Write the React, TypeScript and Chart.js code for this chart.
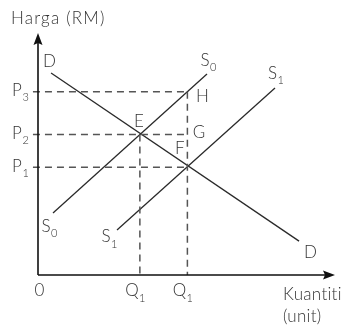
import React, { useEffect, useRef } from "react";
import { Chart, registerables } from "chart.js";

Chart.register(...registerables);

// Curves (quantity, price) in chart units (0..100 on both axes)
const demandCurve = [
  { x: 4.4, y: 83.5 },
  { x: 87.9, y: 14.0 },
];
const supplyS0 = [
  { x: 5.05, y: 25.6 },
  { x: 56.9, y: 83.1 },
];
const supplyS1 = [
  { x: 26.6, y: 18.6 },
  { x: 79.8, y: 77.3 },
];
// Price levels P1, P2, P3
const priceLevels = [44.5, 58.1, 75.7];
const priceNames = ["1", "2", "3"];
// Quantity levels (both labelled Q1 in the figure)
const quantityLevels = [34.3, 50.3];
const quantityNames = ["1", "1"];

const dashStart = -1.7;

export default function App() {
  const ref = useRef<HTMLCanvasElement | null>(null);
  useEffect(() => {
    const canvas = ref.current;
    if (!canvas) return;
    const [p1, p2, p3] = priceLevels;
    const [qE, qF] = quantityLevels;
    const solid = "#2a2a2a";
    const dashed = "#555555";
    const mk = (data: any[], color: string, dash: number[] = [], width = 1.3) => ({
      data,
      showLine: true,
      borderColor: color,
      borderWidth: width,
      borderDash: dash,
      pointRadius: 0,
      fill: false,
      clip: false,
    });
    const datasets = [
      mk([{ x: dashStart, y: p3 }, { x: qF, y: p3 }], dashed, [7, 5], 1.5),
      mk([{ x: dashStart, y: p2 }, { x: qF, y: p2 }], dashed, [7, 5], 1.5),
      mk([{ x: dashStart, y: p1 }, { x: qF, y: p1 }], dashed, [7, 5], 1.5),
      mk([{ x: qE, y: p2 }, { x: qE, y: 0 }], dashed, [7, 5], 1.5),
      mk([{ x: qF, y: p3 }, { x: qF, y: 0 }], dashed, [7, 5], 1.5),
      mk(demandCurve, solid),
      mk(supplyS0, solid),
      mk(supplyS1, solid),
    ];

    const labelFont = "300 17px Lato, 'Open Sans', sans-serif";
    const subFont = "300 11px Lato, 'Open Sans', sans-serif";
    const titleFont = "300 17px Lato, 'Open Sans', sans-serif";
    const textColor = "#333333";

    const overlay = {
      id: "overlay",
      afterDatasetsDraw(chart: any) {
        const ctx = chart.ctx as CanvasRenderingContext2D;
        const xs = chart.scales.x;
        const ys = chart.scales.y;
        const X = (v: number) => xs.getPixelForValue(v);
        const Y = (v: number) => ys.getPixelForValue(v);
        const ax = X(0);
        const ay = Y(0);
        const top = chart.chartArea.top;
        const right = chart.chartArea.right;
        ctx.save();
        // axes
        ctx.strokeStyle = "#111";
        ctx.fillStyle = "#111";
        ctx.lineWidth = 1.6;
        ctx.setLineDash([]);
        ctx.beginPath();
        ctx.moveTo(ax, ay);
        ctx.lineTo(ax, top + 8);
        ctx.moveTo(ax, ay);
        ctx.lineTo(right - 8, ay);
        ctx.stroke();
        // arrow heads
        ctx.beginPath();
        ctx.moveTo(ax, top);
        ctx.lineTo(ax + 4.5, top + 12);
        ctx.lineTo(ax, top + 10);
        ctx.lineTo(ax - 4.5, top + 12);
        ctx.closePath();
        ctx.fill();
        ctx.beginPath();
        ctx.moveTo(right, ay);
        ctx.lineTo(right - 12, ay - 4.5);
        ctx.lineTo(right - 10, ay);
        ctx.lineTo(right - 12, ay + 4.5);
        ctx.closePath();
        ctx.fill();

        const lab = (t: string, sub: string, cx: number, cy: number) => {
          ctx.fillStyle = textColor;
          ctx.font = labelFont;
          ctx.textAlign = "center";
          ctx.textBaseline = "middle";
          ctx.fillText(t, cx, cy);
          if (sub) {
            const w = ctx.measureText(t).width;
            ctx.font = subFont;
            ctx.textAlign = "left";
            ctx.fillText(sub, cx + w / 2 + 0.5, cy + 7);
          }
        };
        // curve labels
        const d0 = demandCurve[0], d1 = demandCurve[demandCurve.length - 1];
        lab("D", "", X(d0.x) - 1.5, Y(d0.y) - 11.5);
        lab("D", "", X(d1.x) + 11.5, Y(d1.y) + 11);
        const s00 = supplyS0[0], s01 = supplyS0[supplyS0.length - 1];
        lab("S", "0", X(s01.x) - 2, Y(s01.y) - 13.5);
        lab("S", "0", X(s00.x) - 7, Y(s00.y) + 13.5);
        const s10 = supplyS1[0], s11 = supplyS1[supplyS1.length - 1];
        lab("S", "1", X(s11.x) - 2.5, Y(s11.y) - 14);
        lab("S", "1", X(s10.x) - 11, Y(s10.y) + 7);
        // points
        lab("E", "", X(qE) - 1, Y(p2) - 13);
        lab("F", "", X(qF) - 7.5, Y(p1) - 18.5);
        lab("G", "", X(qF) + 11.5, Y(p2) - 2);
        lab("H", "", X(qF) + 15, Y(p3) + 5);
        // axis labels
        priceLevels.forEach((p, i) => lab("P", priceNames[i], 17, Y(p) - 1.2));
        quantityLevels.forEach((q, i) => lab("Q", quantityNames[i], X(q) - 8, ay + 16));
        lab("0", "", ax + 1.5, ay + 16);
        ctx.font = titleFont;
        ctx.textAlign = "left";
        ctx.textBaseline = "middle";
        ctx.fillStyle = textColor;
        (ctx as any).letterSpacing = "1.2px";
        ctx.fillText("Harga (RM)", 11, 19);
        (ctx as any).letterSpacing = "0.3px";
        ctx.fillText("Kuantiti", 283, ay + 19.5);
        ctx.fillText("(unit)", 283, ay + 42);
        (ctx as any).letterSpacing = "0px";
        ctx.restore();
      },
    };

    const chart = new Chart(canvas, {
      type: "scatter",
      data: { datasets: datasets as any },
      options: {
        animation: false,
        responsive: false,
        devicePixelRatio: 1,
        layout: { padding: { left: 38, right: 11, top: 33, bottom: 60 } },
        plugins: { legend: { display: false }, tooltip: { enabled: false } },
        scales: {
          x: { type: "linear", min: 0, max: 100, display: false },
          y: { type: "linear", min: 0, max: 100, display: false },
        },
      },
      plugins: [overlay],
    });
    return () => chart.destroy();
  }, []);
  return (
    <div style={{ position: "absolute", left: 0, top: 0, width: 346, height: 335, background: "#fff" }}>
      <canvas ref={ref} width={346} height={335} />
    </div>
  );
}
